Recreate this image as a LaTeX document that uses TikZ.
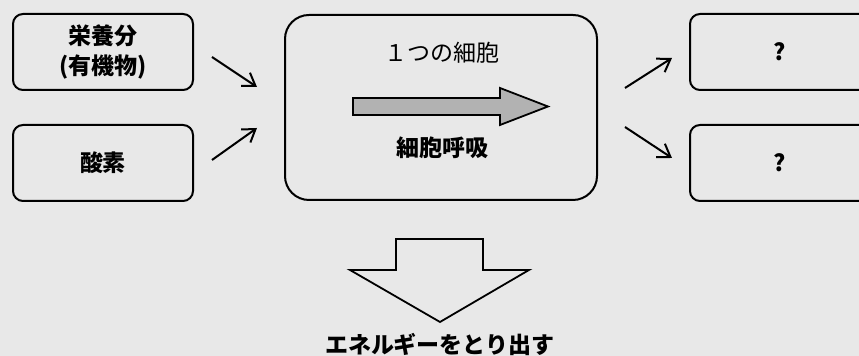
\documentclass[tikz,border=0pt]{standalone}
\usepackage{fontspec}
\usepackage{tikz}
\usetikzlibrary{arrows.meta}
\newfontfamily\cjk{Noto Sans CJK JP}
\definecolor{fondo}{HTML}{E8E8E8}

\begin{document}
\begin{tikzpicture}[x=0.5pt, y=-0.5pt,
        caja/.style={draw=black, line width=1pt, rounded corners=5pt, minimum width=90pt, minimum height=38pt, inner sep=0pt, align=center, font=\cjk\bfseries\fontsize{11.5}{15}\selectfont},
        texto/.style={inner sep=0pt, font=\cjk\fontsize{11.5}{15}\selectfont},
        flecha/.style={black, line width=1pt, -{Straight Barb[length=6pt, width=8pt]}}]
            % Fondo
            \clip (0,0) rectangle (859,356);
            \fill[fondo] (0,0) rectangle (859,356);

            % Cajas de entrada
            \node[caja] (nutri) at (103,52) {栄養分\\(有機物)};
            \node[caja] (oxi) at (103,163) {酸素};

            % Celula
            \node[caja, rounded corners=12pt, minimum width=156pt, minimum height=92.5pt] (celula) at (441,107.5) {};
            \node[texto] (titulo) at (442,53) {１つの細胞};
            \node[texto, font=\cjk\bfseries\fontsize{11.5}{15}\selectfont] (resp) at (442,148) {細胞呼吸};
            % Flecha gris
            \filldraw[fill=black!30, draw=black, line width=0.9pt] (353,98) -- (500,98) -- (500,88) -- (548,106.5) -- (500,125) -- (500,115) -- (353,115) -- cycle;

            % Cajas de salida
            \node[caja] (sal1) at (780,52) {?};
            \node[caja] (sal2) at (780,163) {?};

            % Flechas
            \coordinate (e1) at (212,57);  \coordinate (f1) at (257,87);
            \coordinate (e2) at (212,160); \coordinate (f2) at (257,128);
            \coordinate (e3) at (625,88);  \coordinate (f3) at (672,58);
            \coordinate (e4) at (625,127); \coordinate (f4) at (672,158);
            \draw[flecha] (e1) -- (f1);
            \draw[flecha] (e2) -- (f2);
            \draw[flecha] (e3) -- (f3);
            \draw[flecha] (e4) -- (f4);

            % Flecha hacia abajo
            \filldraw[fill=fondo, draw=black, line width=0.9pt] (396,239) -- (483,239) -- (483,270) -- (529,270) -- (440,322) -- (350,270) -- (396,270) -- cycle;
            \node[texto, font=\cjk\bfseries\fontsize{11.5}{15}\selectfont] (energia) at (440,345) {エネルギーをとり出す};
        \end{tikzpicture}
\end{document}
